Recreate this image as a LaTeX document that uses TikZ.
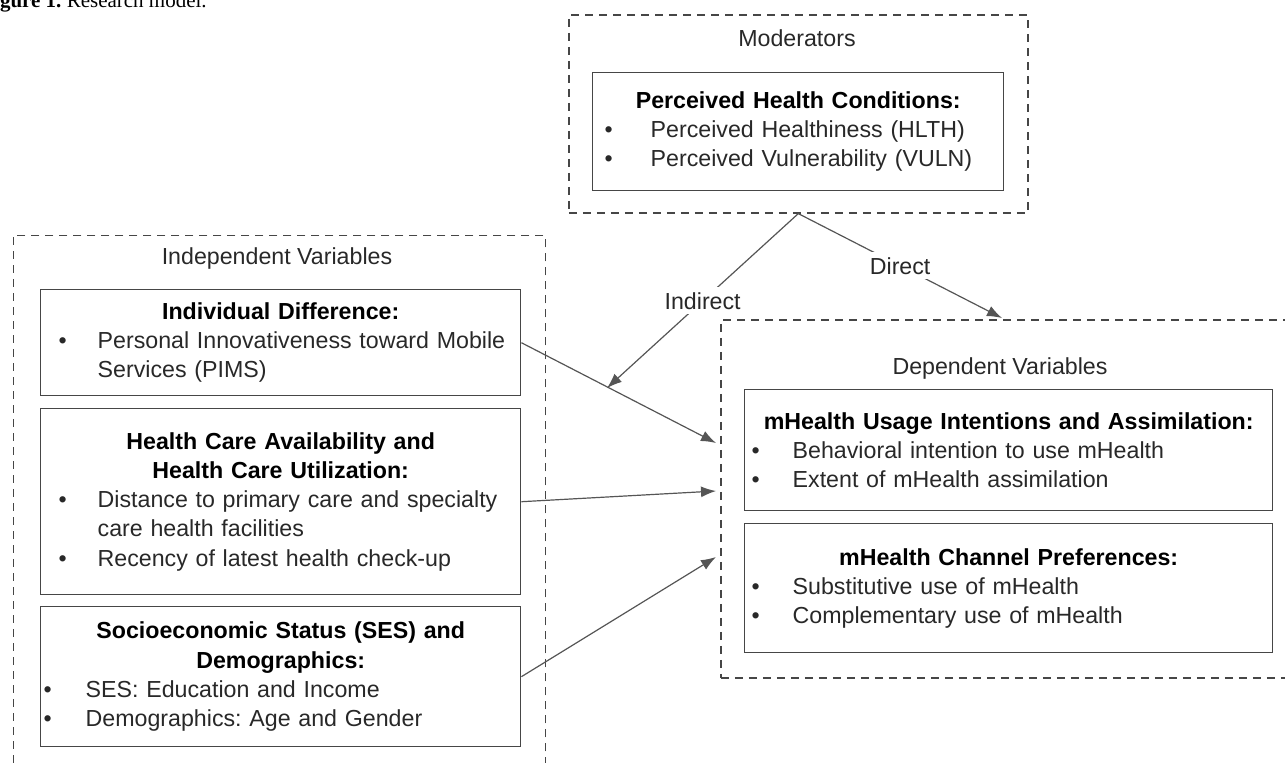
\documentclass[tikz,border=0pt]{standalone}
\usepackage{fontspec}
\setmainfont{Liberation Sans}
\newfontfamily\capfont{Liberation Serif}
\usetikzlibrary{arrows.meta}
\definecolor{boxgrey}{RGB}{70,70,70}
\definecolor{linegrey}{RGB}{85,85,85}
\definecolor{txtgrey}{RGB}{40,40,40}
\frenchspacing
% bullet line: #1 bullet offset, #2 text offset, #3 text
\newcommand\itm[3]{\par\raggedright\hangindent=#2\hangafter=1\noindent\makebox[#2][l]{\hspace*{#1}\textbullet}#3\par}
\tikzset{
  group/.style={draw=boxgrey,line width=0.8pt,dash pattern=on 4pt off 3pt,anchor=north west,inner sep=0pt},
  varbox/.style={draw=boxgrey,line width=0.7pt,anchor=north west,inner xsep=0pt,inner ysep=0pt,text=txtgrey},
  grouplbl/.style={text=txtgrey},
  link/.style={draw=linegrey,line width=0.6pt,-{Latex[length=7.5pt,width=5.5pt]}},
  linklbl/.style={fill=white,inner sep=2.5pt,text=txtgrey}
}
\begin{document}
\begin{tikzpicture}[x=0.5pt,y=-0.5pt,font=\fontsize{11.6}{14.6}\selectfont]
\useasboundingbox (0,0) rectangle (1285,762);
%Caption, cut by the top of the page
\node[anchor=base west,inner sep=0pt,font=\capfont\fontsize{10.5}{12}\selectfont] (cap) at (-19,7) {\textbf{Figure 1.} Research model.};
%Moderators
\node[group,minimum width=229.5pt,minimum height=99pt] (mod) at (568,14) {};
\node[grouplbl] (modlbl) at (797,38) {Moderators};
\node[varbox,minimum width=205.5pt,minimum height=59pt,text width=205.5pt] (hlth) at (592,72) {%
{\centering\bfseries\color{black}Perceived Health Conditions:\par}
\itm{6pt}{29pt}{Perceived Healthiness (HLTH)}
\itm{6pt}{29pt}{Perceived Vulnerability (VULN)}};
%Independent variables
\node[group,minimum width=266pt,minimum height=300pt] (indep) at (12.5,234.5) {};
\node[grouplbl] (indeplbl) at (277,258) {Independent Variables};
\node[varbox,minimum width=240pt,minimum height=53pt,text width=240pt] (idiff) at (40,289) {%
{\centering\bfseries\color{black}Individual Difference:\par}
\itm{9pt}{28.5pt}{Personal Innovativeness toward Mobile\newline Services (PIMS)}};
\node[varbox,minimum width=240pt,minimum height=93pt,text width=240pt] (hcare) at (40,408) {%
{\centering\bfseries\color{black}Health Care Availability and\\Health Care Utilization:\par}
\itm{9pt}{28.5pt}{Distance to primary care and specialty\newline care health facilities}
\itm{9pt}{28.5pt}{Recency of latest health check-up}};
\node[varbox,minimum width=240pt,minimum height=70pt,text width=240pt] (ses) at (40,606) {%
{\centering\bfseries\color{black}Socioeconomic Status (SES) and\\Demographics:\par}
\itm{1.5pt}{22.5pt}{SES: Education and Income}
\itm{1.5pt}{22.5pt}{Demographics: Age and Gender}};
%Dependent variables
\node[group,minimum width=340pt,minimum height=179pt] (dep) at (720,319) {};
\node[grouplbl] (deplbl) at (1000,368) {Dependent Variables};
\node[varbox,minimum width=264pt,minimum height=60.5pt,text width=264pt] (usage) at (744,389) {%
{\centering\bfseries\color{black}mHealth Usage Intentions and Assimilation:\par}
\itm{3.5pt}{24pt}{Behavioral intention to use mHealth}
\itm{3.5pt}{24pt}{Extent of mHealth assimilation}};
\node[varbox,minimum width=264pt,minimum height=64.5pt,text width=264pt] (chan) at (744,523) {%
{\centering\bfseries\color{black}mHealth Channel Preferences:\par}
\itm{3.5pt}{24pt}{Substitutive use of mHealth}
\itm{3.5pt}{24pt}{Complementary use of mHealth}};
%Arrow ends
\coordinate (indtip) at (607,388);
\coordinate (dirtip) at (1002,318);
\coordinate (in1) at (716,443);
\coordinate (in2) at (716,491);
\coordinate (in3) at (716,557);
%Links
\draw[link] (mod.south) -- node[linklbl] {Indirect} (indtip);
\draw[link] (mod.south) -- node[linklbl] {Direct} (dirtip);
\draw[link] (idiff.east) -- (in1);
\draw[link] (hcare.east) -- (in2);
\draw[link] (ses.east) -- (in3);
\end{tikzpicture}
\end{document}
